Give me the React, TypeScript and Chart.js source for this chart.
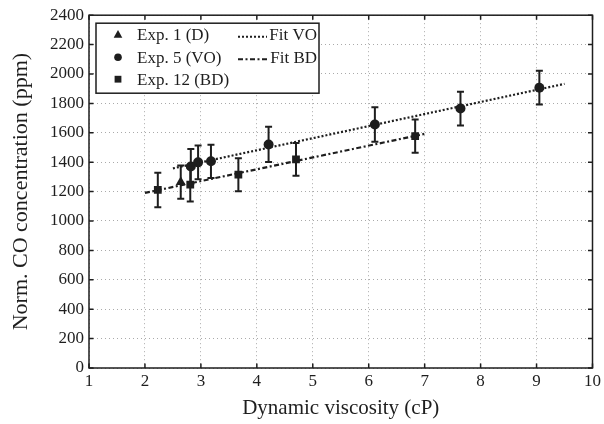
import React, { useEffect, useRef } from "react";
import { Chart, registerables } from "chart.js";

Chart.register(...registerables);

// ---- data ----
const exp1X = [2.64];
const exp1Y = [1265];
const exp1Err = [113];

const exp5X = [2.82, 2.95, 3.18, 4.21, 6.11, 7.64, 9.05];
const exp5Y = [1371, 1399, 1406, 1521, 1656, 1765, 1907];
const exp5Err = [118, 115, 113, 120, 117, 115, 115];

const exp12X = [2.23, 2.81, 3.67, 4.7, 6.83];
const exp12Y = [1211, 1247, 1315, 1419, 1577];
const exp12Err = [117, 115, 112, 112, 113];

const fitVOX = [2.5, 9.5];
const fitVOY = [1358, 1933];
const fitBDX = [2.0, 7.0];
const fitBDY = [1191, 1593];

const xTicks = [1, 2, 3, 4, 5, 6, 7, 8, 9, 10];
const yTicks = [0, 200, 400, 600, 800, 1000, 1200, 1400, 1600, 1800, 2000, 2200, 2400];

const legendLeft = ["Exp. 1 (D)", "Exp. 5 (VO)", "Exp. 12 (BD)"];
const legendRight = ["Fit VO", "Fit BD"];

const FONT = "'Liberation Serif', 'DejaVu Serif', serif";
const INK = "#1e1e1e";

const toPts = (xs: number[], ys: number[]) => xs.map((x, i) => ({ x, y: ys[i] }));

const errorBarPlugin = {
  id: "errorBars",
  afterDatasetsDraw(chart: any) {
    const { ctx, scales } = chart;
    const xs = scales.x;
    const ys = scales.y;
    const sets: [number[], number[], number[]][] = [
      [exp1X, exp1Y, exp1Err],
      [exp5X, exp5Y, exp5Err],
      [exp12X, exp12Y, exp12Err],
    ];
    ctx.save();
    ctx.strokeStyle = INK;
    ctx.lineWidth = 2;
    const cap = 3.5;
    sets.forEach(([X, Y, E]) => {
      X.forEach((x, i) => {
        const px = xs.getPixelForValue(x);
        const top = ys.getPixelForValue(Y[i] + E[i]);
        const bot = ys.getPixelForValue(Y[i] - E[i]);
        ctx.beginPath();
        ctx.moveTo(px, top);
        ctx.lineTo(px, bot);
        ctx.moveTo(px - cap, top);
        ctx.lineTo(px + cap, top);
        ctx.moveTo(px - cap, bot);
        ctx.lineTo(px + cap, bot);
        ctx.stroke();
      });
    });
    ctx.restore();
  },
};

const framePlugin = {
  id: "frame",
  afterDraw(chart: any) {
    const { ctx, chartArea: a, scales } = chart;
    ctx.save();
    ctx.strokeStyle = INK;
    ctx.lineWidth = 1.5;
    ctx.strokeRect(a.left, a.top, a.right - a.left, a.bottom - a.top);
    const t = 4.5;
    ctx.beginPath();
    xTicks.forEach((v) => {
      const px = scales.x.getPixelForValue(v);
      ctx.moveTo(px, a.bottom);
      ctx.lineTo(px, a.bottom - t);
      ctx.moveTo(px, a.top);
      ctx.lineTo(px, a.top + t);
    });
    yTicks.forEach((v) => {
      const py = scales.y.getPixelForValue(v);
      ctx.moveTo(a.left, py);
      ctx.lineTo(a.left + t, py);
      ctx.moveTo(a.right, py);
      ctx.lineTo(a.right - t, py);
    });
    ctx.stroke();

    // legend
    const bx = a.left + 7;
    const by = a.top + 8;
    const bw = 223;
    const bh = 70;
    ctx.fillStyle = "#fff";
    ctx.fillRect(bx, by, bw, bh);
    ctx.lineWidth = 1.5;
    ctx.strokeRect(bx, by, bw, bh);
    const rows = [by + 11.5, by + 34, by + 56];
    ctx.fillStyle = INK;
    ctx.font = `17px ${FONT}`;
    ctx.textBaseline = "middle";
    ctx.textAlign = "left";
    const mx = bx + 22;
    // triangle
    const r = 4.8;
    ctx.beginPath();
    ctx.moveTo(mx, rows[0] - r);
    ctx.lineTo(mx + r * 0.9, rows[0] + r * 0.55 + 0.5);
    ctx.lineTo(mx - r * 0.9, rows[0] + r * 0.55 + 0.5);
    ctx.closePath();
    ctx.fill();
    // circle
    ctx.beginPath();
    ctx.arc(mx, rows[1], 3.8, 0, Math.PI * 2);
    ctx.fill();
    // square
    ctx.fillRect(mx - 3.4, rows[2] - 3.4, 6.8, 6.8);
    legendLeft.forEach((s, i) => ctx.fillText(s, bx + 41, rows[i] + 1));
    // line samples
    ctx.lineWidth = 2;
    ctx.strokeStyle = INK;
    ctx.setLineDash([2, 2]);
    ctx.beginPath();
    ctx.moveTo(bx + 142, rows[0] + 2);
    ctx.lineTo(bx + 171, rows[0] + 2);
    ctx.stroke();
    ctx.setLineDash([5, 2.5, 2, 2.5]);
    ctx.beginPath();
    ctx.moveTo(bx + 142, rows[1] + 2);
    ctx.lineTo(bx + 171, rows[1] + 2);
    ctx.stroke();
    ctx.setLineDash([]);
    ctx.textAlign = "right";
    legendRight.forEach((s, i) => ctx.fillText(s, bx + bw - 2, rows[i] + 1));
    ctx.restore();
  },
};

export default function App() {
  const ref = useRef<HTMLCanvasElement | null>(null);
  useEffect(() => {
    document.body.style.margin = "0";
    if (!ref.current) return;
    const chart = new Chart(ref.current, {
      type: "scatter",
      data: {
        datasets: [
          {
            label: "Fit VO",
            data: toPts(fitVOX, fitVOY),
            showLine: true,
            borderColor: INK,
            borderWidth: 2.2,
            borderDash: [2, 2],
            pointRadius: 0,
          },
          {
            label: "Fit BD",
            data: toPts(fitBDX, fitBDY),
            showLine: true,
            borderColor: INK,
            borderWidth: 2.2,
            borderDash: [5, 2.5, 2, 2.5],
            pointRadius: 0,
          },
          {
            label: legendLeft[0],
            data: toPts(exp1X, exp1Y),
            pointStyle: "triangle",
            pointRadius: 5.8,
            backgroundColor: INK,
            borderColor: INK,
            borderWidth: 0,
          },
          {
            label: legendLeft[1],
            data: toPts(exp5X, exp5Y),
            pointStyle: "circle",
            pointRadius: 5,
            backgroundColor: INK,
            borderColor: INK,
            borderWidth: 0,
          },
          {
            label: legendLeft[2],
            data: toPts(exp12X, exp12Y),
            pointStyle: "rect",
            pointRadius: 5.5,
            backgroundColor: INK,
            borderColor: INK,
            borderWidth: 0,
          },
        ],
      },
      options: {
        responsive: false,
        animation: false,
        layout: { padding: { left: 0, right: 11, top: 14, bottom: 0 } },
        plugins: { legend: { display: false }, tooltip: { enabled: false } },
        scales: {
          x: {
            type: "linear",
            min: 1,
            max: 10,
            afterFit: (s: any) => {
              s.height = 56;
            },
            afterBuildTicks: (s: any) => {
              s.ticks = xTicks.map((v) => ({ value: v }));
            },
            ticks: {
              color: INK,
              font: { family: FONT, size: 17 },
              padding: 3,
              maxRotation: 0,
              callback: (v: any) => String(v),
            },
            grid: { color: "#aaa", lineWidth: 1, drawTicks: false },
            border: { display: false, dash: [1, 3] },
            title: {
              display: true,
              text: "Dynamic viscosity (cP)",
              color: INK,
              font: { family: FONT, size: 21 },
              padding: { top: 2, bottom: 3 },
            },
          },
          y: {
            type: "linear",
            min: 0,
            max: 2400,
            afterFit: (s: any) => {
              s.width = 89;
            },
            afterBuildTicks: (s: any) => {
              s.ticks = yTicks.map((v) => ({ value: v }));
            },
            ticks: {
              color: INK,
              font: { family: FONT, size: 17 },
              padding: 5,
              callback: (v: any) => String(v),
            },
            grid: { color: "#aaa", lineWidth: 1, drawTicks: false },
            border: { display: false, dash: [1, 3] },
            title: {
              display: true,
              text: "Norm. CO concentration (ppm)",
              color: INK,
              font: { family: FONT, size: 22 },
              padding: { top: 8, bottom: 4 },
            },
          },
        },
      },
      plugins: [errorBarPlugin, framePlugin],
    });
    return () => chart.destroy();
  }, []);
  return (
    <div style={{ width: 604, height: 424 }}>
      <canvas ref={ref} width={604} height={424} />
    </div>
  );
}
